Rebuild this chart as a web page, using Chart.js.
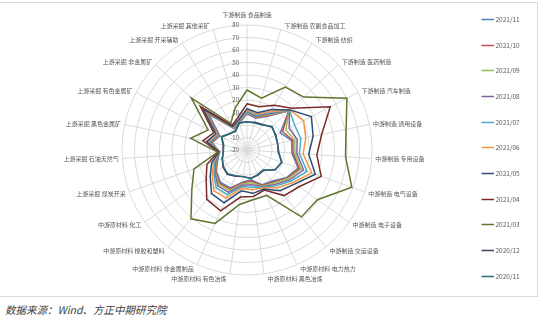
<!DOCTYPE html>
<html lang="zh-CN">
<head>
<meta charset="UTF-8">
<title>工业增加值累计同比 雷达图</title>
<script src="https://cdn.jsdelivr.net/npm/chart.js@4.4.1/dist/chart.umd.min.js"></script>
</head>
<body style="margin:0; background:#ffffff; width:543px; height:323px; position:relative; overflow:hidden;">

<div style="position:absolute; left:0px; top:2px; width:537px; height:293px; border:1px solid #d9d9d9; border-left:none;"></div>
<canvas id="radar" width="543" height="300" style="position:absolute; left:0; top:0; width:543px; height:300px;"></canvas>
<div style="position:absolute; left:5px; top:302px; font-family:'Noto Sans CJK SC', sans-serif; font-style:italic; font-size:10.5px; color:#404040; white-space:nowrap;">数据来源：Wind、方正中期研究院</div>

<script>
// 行业分类（顺时针，从正上方开始）
const categories = [
    '下游制造 食品制造', '下游制造 农副食品加工', '下游制造 纺织', '下游制造 医药制造',
    '下游制造 汽车制造', '中游制造 通用设备', '中游制造 专用设备', '中游制造 电气设备',
    '中游制造 电子设备', '中游制造 交运设备', '中游原材料 电力热力', '中游原材料 黑色冶炼',
    '中游原材料 有色冶炼', '中游原材料 非金属制品', '中游原材料 橡胶和塑料', '中游原材料 化工',
    '上游采掘 煤炭开采', '上游采掘 石油天然气', '上游采掘 黑色金属矿', '上游采掘 有色金属矿',
    '上游采掘 非金属矿', '上游采掘 开采辅助', '上游采掘 其他采矿'
];

const seriesNames = ['2021/11', '2021/10', '2021/09', '2021/08', '2021/07', '2021/06',
                     '2021/05', '2021/04', '2021/03', '2020/12', '2020/11'];

// 各月累计同比（%）
const v202111 = [9, 6.5, 11.5, 26, 10, 16.5, 16, 23.5, 18.5, 12, 10.5, 4, 6, 13, 13.5, 10, 5, 2, 8.5, 4.5, 22, 0, 2.5];
const v202110 = [9.5, 7, 12, 26, 12, 17.5, 17, 24.5, 19, 13, 11, 5, 6.5, 14, 14.5, 10.5, 5.5, 2, 9, 5, 23, 0.5, 3];
const v202109 = [10, 7.5, 13, 26, 15, 19, 18.5, 26, 20, 14, 11.5, 6.5, 7.5, 15.5, 15.5, 11, 6, 2, 9.5, 5.5, 24, 0.5, 3];
const v202108 = [10.5, 8, 14, 26.5, 18, 21, 20, 28, 21.5, 15.5, 12, 8, 8.5, 17, 17, 11.5, 6.5, 2, 10, 6, 25, 1, 3.5];
const v202107 = [11, 9, 15, 26.5, 23, 24, 22, 31, 23, 17, 12.5, 10, 9.5, 19, 19, 12.5, 7.5, 2.5, 11, 6.5, 26, 1, 4];
const v202106 = [12, 10, 16, 27, 31, 28, 25, 35, 25, 19, 13, 12, 11, 22, 22, 14, 8.5, 2.5, 12, 7, 27, 1.5, 4.5];
const v202105 = [13, 11, 18, 27, 38, 34, 29.5, 38, 27, 22, 14, 15, 13, 26, 25, 16, 10, 2.5, 13, 8, 28, 2, 5];
const v202104 = [17, 16, 22, 29, 55, 41, 36, 43, 31, 27, 15, 17.5, 18, 33, 31, 20, 14, 3, 16, 10, 31, 3, 7];
const v202103 = [28, 23, 39, 42, 70, 61, 59, 69, 49, 49, 19.5, 20, 24, 44, 51, 34, 25, 3.5, 26, 15, 41, 5, 15];
const v202012 = [2.5, 3, 4, 7, 6, 5, 5.5, 9.5, 7.5, 1, 2, 3, 1.5, 3, 5, 3.5, 1, -1, -0.5, 3, -1, -2, 2.5];
const v202011 = [2.5, 2.5, 3.5, 7.5, 5.5, 5, 5, 9.5, 7.5, 0.5, 1.5, 3, 1.5, 2.5, 4.5, 3, 1, -1, -1, 3, -1, -2.5, 2.5];

const seriesValues = [v202111, v202110, v202109, v202108, v202107, v202106,
                      v202105, v202104, v202103, v202012, v202011];

const seriesColors = ['#4F81BD', '#C0504D', '#9BBB59', '#8064A2', '#4BACC6', '#F79646',
                      '#2C4D75', '#772C2A', '#5F7530', '#4D3B62', '#276A7C'];

const tickValues = [-20, -10, 0, 10, 20, 30, 40, 50, 60, 70, 80];

const textColor = '#595959';
const cjkFont = '"Noto Sans CJK SC", sans-serif';

// 坐标刻度、维度标签和右侧图例，按 Excel 的摆放方式画
const excelText = {
    id: 'excelText',
    beforeDatasetsDraw(chart) {
        const r = chart.scales.r;
        const ctx = chart.ctx;
        ctx.save();
        ctx.fillStyle = textColor;

        ctx.font = '6px ' + cjkFont;
        ctx.textAlign = 'right';
        ctx.textBaseline = 'middle';
        tickValues.forEach(v => {
            const y = r.yCenter - r.getDistanceFromCenterForValue(v);
            ctx.fillText(String(v), r.xCenter - 8, y);
        });

        const outer = r.getDistanceFromCenterForValue(80);
        categories.forEach((name, i) => {
            const a = i * 2 * Math.PI / categories.length;
            const p = r.getPointPosition(i, outer);
            const s = Math.sin(a), c = Math.cos(a);
            let x = p.x, y = p.y - 4.5 * c;
            if (i === 0) {
                ctx.textAlign = 'center';
                y = p.y - 10;
            } else if (s > 0) {
                ctx.textAlign = 'left';
                x += 3.5;
            } else {
                ctx.textAlign = 'right';
                x -= 3.5;
            }
            ctx.fillText(name, x, y);
        });
        ctx.restore();
    },
    afterDraw(chart) {
        const ctx = chart.ctx;
        ctx.save();
        ctx.font = '6.5px ' + cjkFont;
        ctx.textAlign = 'left';
        ctx.textBaseline = 'middle';
        seriesNames.forEach((name, i) => {
            const y = Math.round(19 + 25.65 * i) + 0.5;
            ctx.strokeStyle = seriesColors[i];
            ctx.lineWidth = 1.5;
            ctx.beginPath();
            ctx.moveTo(481.5, y);
            ctx.lineTo(494, y);
            ctx.stroke();
            ctx.fillStyle = textColor;
            ctx.fillText(name, 495.5, y);
        });
        ctx.restore();
    }
};

const datasets = seriesNames.map((name, i) => ({
    label: name,
    data: seriesValues[i],
    borderColor: seriesColors[i],
    backgroundColor: seriesColors[i],
    borderWidth: 1.5,
    fill: false,
    pointRadius: 0,
    tension: 0,
    order: seriesNames.length - i
}));

new Chart(document.getElementById('radar'), {
    type: 'radar',
    data: { labels: categories, datasets: datasets },
    options: {
        responsive: false,
        animation: false,
        layout: { padding: { left: 122, right: 170, top: 24, bottom: 24 } },
        plugins: { legend: { display: false }, tooltip: { enabled: false } },
        scales: {
            r: {
                min: -20,
                max: 80,
                ticks: { stepSize: 10, display: false },
                pointLabels: { display: false },
                grid: { circular: true, color: '#d9d9d9', lineWidth: 1 },
                angleLines: { color: '#d9d9d9', lineWidth: 1 }
            }
        }
    },
    plugins: [excelText]
});
</script>
</body>
</html>
